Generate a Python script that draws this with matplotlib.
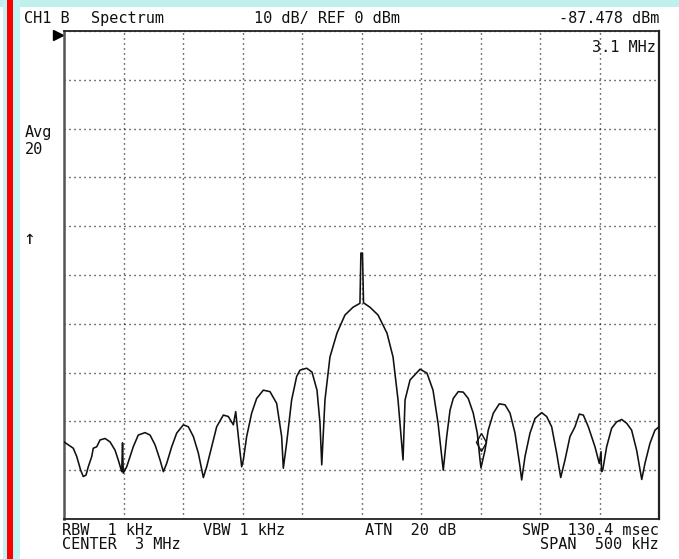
import matplotlib
matplotlib.use("Agg")
import matplotlib.pyplot as plt
from matplotlib.patches import Rectangle
from matplotlib.transforms import blended_transform_factory

# ---- data: frequency offset from 3 MHz centre (kHz) and level (dBm) ----
freq_khz = [
    -250.0, -246.4, -242.2, -239.3, -236.0, -233.8, -231.5, -229.6, -226.7, -225.4,
    -222.5, -219.7, -215.5, -211.3, -207.1, -204.4, -201.5, -200.8, -200.2, -197.3,
    -194.5, -191.8, -187.6, -181.9, -177.7, -173.5, -169.3, -166.5, -163.7, -159.5,
    -155.3, -149.7, -145.5, -141.3, -137.1, -132.9, -130.1, -125.9, -121.7, -116.1,
    -111.9, -107.7, -105.7, -103.5, -100.7, -99.3, -96.5, -92.3, -88.1, -82.5,
    -76.9, -71.3, -67.1, -65.7, -62.9, -58.7, -54.5, -51.7, -46.0, -41.6,
    -37.4, -34.9, -33.4, -30.7, -26.5, -20.6, -13.9, -7.1, -1.3, -0.5,
    0.8, 1.7, 7.1, 13.9, 21.4, 26.5, 30.7, 34.0, 34.9, 36.6,
    40.8, 49.2, 55.0, 60.1, 64.3, 68.7, 71.6, 74.4, 77.1, 81.3,
    85.5, 89.7, 93.9, 97.3, 99.6, 100.4, 103.8, 106.5, 110.8, 115.8,
    120.6, 124.8, 129.0, 133.2, 134.6, 137.4, 141.6, 145.8, 151.4, 155.6,
    159.8, 164.0, 167.4, 171.0, 175.2, 179.4, 183.0, 186.4, 190.6, 196.2,
    199.8, 201.3, 201.7, 202.7, 206.0, 210.2, 214.4, 218.6, 222.9, 227.0,
    231.2, 235.5, 238.2, 242.4, 246.6, 250.0,
]
level_dbm = [
    -84.2, -84.8, -85.5, -87.2, -90.0, -91.3, -91.0, -89.3, -87.2, -85.5,
    -85.2, -83.8, -83.5, -84.2, -85.9, -87.9, -90.3, -84.4, -90.6, -89.3,
    -87.2, -85.2, -82.8, -82.3, -82.8, -84.8, -87.9, -90.3, -88.6, -85.2,
    -82.4, -80.7, -81.1, -83.1, -86.5, -91.5, -89.3, -85.2, -81.1, -78.7,
    -79.0, -80.7, -78.0, -83.1, -89.3, -87.9, -83.1, -78.3, -75.3, -73.6,
    -73.9, -76.3, -83.1, -89.6, -84.4, -75.6, -70.8, -69.5, -69.1, -69.9,
    -73.6, -80.3, -88.9, -75.6, -66.8, -61.9, -58.2, -56.6, -55.8, -45.5,
    -45.5, -55.7, -56.6, -58.2, -61.9, -66.8, -75.6, -85.2, -87.9, -75.6,
    -71.5, -69.3, -70.1, -73.6, -80.3, -90.0, -83.1, -77.7, -75.3, -73.9,
    -74.0, -75.3, -78.3, -82.4, -87.9, -89.5, -85.9, -81.8, -78.3, -76.4,
    -76.6, -78.3, -82.4, -89.3, -92.0, -87.2, -82.4, -79.4, -78.2, -79.0,
    -81.1, -86.5, -91.5, -87.9, -83.1, -81.1, -78.5, -78.7, -81.1, -85.2,
    -88.6, -86.2, -90.3, -90.0, -85.2, -81.4, -80.1, -79.6, -80.4, -81.8,
    -85.9, -91.9, -88.6, -84.5, -81.8, -81.1,
]

marker_khz = [100.0]
marker_dbm = [-87.478]

ref_level_dbm = 0
db_per_div = 10
span_khz = 500

W, H = 679, 559
fig = plt.figure(figsize=(W / 100, H / 100), dpi=100)
fig.patch.set_facecolor("white")

def fx(px):
    return px / W

def fy(py):
    return 1 - py / H

# decorative background strips
fig.add_artist(Rectangle((0, fy(7)), 1, 7 / H, transform=fig.transFigure,
                         facecolor="#c0f0ee", edgecolor="none", zorder=0))
fig.add_artist(Rectangle((fx(3), 0), 17 / W, 1, transform=fig.transFigure,
                         facecolor="#c3f4f4", edgecolor="none", zorder=0))
fig.add_artist(Rectangle((fx(6.5), 0), 6.5 / W, 1, transform=fig.transFigure,
                         facecolor="#ff0000", edgecolor="none", zorder=1))

ax = fig.add_axes([fx(64), fy(519), 595 / W, 488 / H])
ax.set_xlim(-span_khz / 2, span_khz / 2)
ax.set_ylim(ref_level_dbm - 10 * db_per_div, ref_level_dbm)
ax.set_xticks([-250 + 50 * i for i in range(11)])
ax.set_yticks([-100 + 10 * i for i in range(11)])
ax.tick_params(length=0, labelbottom=False, labelleft=False)
ax.grid(True, color="black", linewidth=1.0, linestyle=(0, (0.75, 2.85)))
ax.set_axisbelow(True)
for side, sp in ax.spines.items():
    sp.set_color("#222222")
    sp.set_linewidth(1.3)
ax.spines["left"].set_color("#555555")
ax.spines["left"].set_linewidth(1.8)
ax.spines["right"].set_linewidth(1.6)

ax.plot(freq_khz, level_dbm, color="#111111", linewidth=1.15, zorder=3)
ax.plot(marker_khz, [m + 3.2 for m in marker_dbm], marker="d", markersize=9,
        markerfacecolor="none", markeredgecolor="#111111", markeredgewidth=1.0,
        linestyle="none", zorder=4)

# reference level pointer
tr = blended_transform_factory(ax.transAxes, ax.transData)
ax.plot([-0.0095], [ref_level_dbm - 0.8], marker=">", markersize=7, color="black",
        transform=tr, clip_on=False)

font = dict(family="DejaVu Sans Mono", fontsize=11, color="#111111", va="baseline")

def t(px, py, s, ha="left", **kw):
    f = dict(font)
    f.update(kw)
    fig.text(fx(px), fy(py), s, ha=ha, **f)

t(24, 23, "CH1 B")
t(91, 23, "Spectrum")
t(254, 23, "10 dB/ REF 0 dBm")
t(659, 23, "-87.478 dBm", ha="right")
t(656, 52, "3.1 MHz", ha="right")
t(25, 137, "Avg")
t(25, 154, "20")
t(23, 244, "\u2191", fontsize=14)
t(62, 535, "RBW  1 kHz")
t(203, 535, "VBW 1 kHz")
t(365, 535, "ATN  20 dB")
t(659, 535, "SWP  130.4 msec", ha="right")
t(62, 549, "CENTER  3 MHz")
t(659, 549, "SPAN  500 kHz", ha="right")

fig.savefig("out.png", dpi=100)
